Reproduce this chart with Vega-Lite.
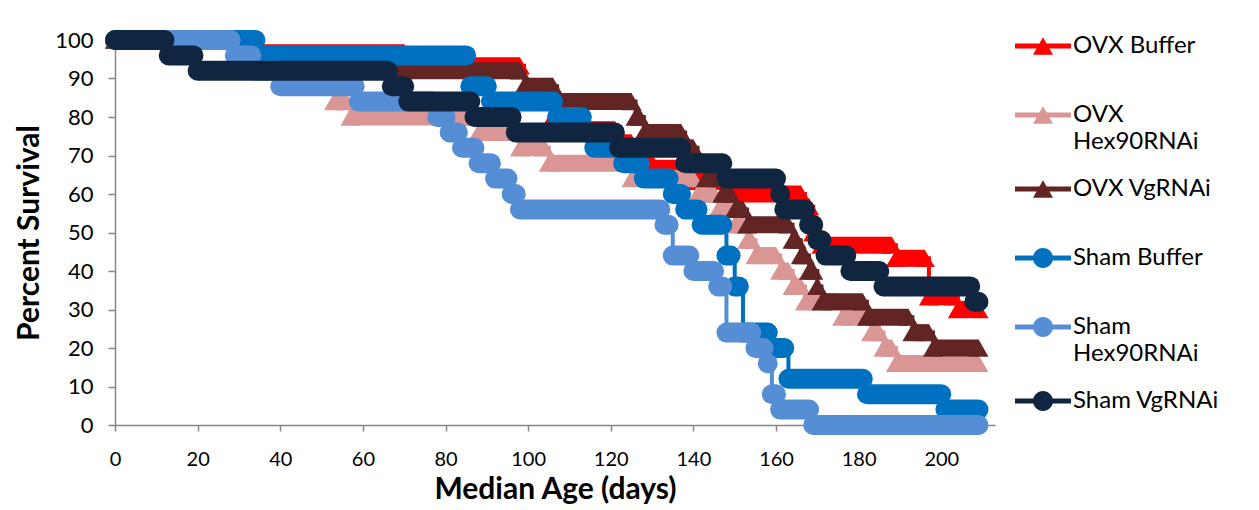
{
  "$schema": "https://vega.github.io/schema/vega-lite/v6.json",
  "width": 880,
  "height": 385,
  "autosize": {"type": "none"},
  "padding": {"left": 115, "top": 40, "right": 264, "bottom": 85},
  "background": "white",
  "config": {"view": {"stroke": null}, "font": "Lato", "style": {"guide-label": {"lineHeight": 27}}},
  "data": {"values": [
    {"s":"OVX Buffer","a":0,"b":29,"p":100},{"s":"OVX Buffer","a":30,"b":70,"p":96.7},{"s":"OVX Buffer","a":71,"b":98,"p":93.3},{"s":"OVX Buffer","a":99,"b":105,"p":86.7},{"s":"OVX Buffer","a":106,"b":113,"p":80},{"s":"OVX Buffer","a":114,"b":121,"p":76.7},{"s":"OVX Buffer","a":122,"b":125,"p":73.3},{"s":"OVX Buffer","a":126,"b":129,"p":70},{"s":"OVX Buffer","a":130,"b":139,"p":66.7},{"s":"OVX Buffer","a":140,"b":147,"p":63.3},{"s":"OVX Buffer","a":148,"b":166,"p":60},{"s":"OVX Buffer","a":167,"b":168,"p":56.7},{"s":"OVX Buffer","a":169,"b":170,"p":50},{"s":"OVX Buffer","a":171,"b":188,"p":46.7},{"s":"OVX Buffer","a":189,"b":196,"p":43.3},{"s":"OVX Buffer","a":197,"b":203,"p":33.3},{"s":"OVX Buffer","a":204,"b":209,"p":30},
    {"s":"OVX Hex90RNAi","a":0,"b":29,"p":100},{"s":"OVX Hex90RNAi","a":30,"b":37,"p":96},{"s":"OVX Hex90RNAi","a":38,"b":44,"p":92},{"s":"OVX Hex90RNAi","a":45,"b":52,"p":88},{"s":"OVX Hex90RNAi","a":53,"b":56,"p":84},{"s":"OVX Hex90RNAi","a":57,"b":87,"p":80},{"s":"OVX Hex90RNAi","a":88,"b":97,"p":76},{"s":"OVX Hex90RNAi","a":98,"b":104,"p":72},{"s":"OVX Hex90RNAi","a":105,"b":124,"p":68},{"s":"OVX Hex90RNAi","a":125,"b":140,"p":64},{"s":"OVX Hex90RNAi","a":141,"b":145,"p":60},{"s":"OVX Hex90RNAi","a":146,"b":149,"p":56},{"s":"OVX Hex90RNAi","a":150,"b":152,"p":52},{"s":"OVX Hex90RNAi","a":153,"b":154,"p":48},{"s":"OVX Hex90RNAi","a":155,"b":160,"p":44},{"s":"OVX Hex90RNAi","a":161,"b":163,"p":40},{"s":"OVX Hex90RNAi","a":164,"b":166,"p":36},{"s":"OVX Hex90RNAi","a":167,"b":175,"p":32},{"s":"OVX Hex90RNAi","a":176,"b":182,"p":28},{"s":"OVX Hex90RNAi","a":183,"b":185,"p":24},{"s":"OVX Hex90RNAi","a":186,"b":188,"p":20},{"s":"OVX Hex90RNAi","a":189,"b":209,"p":16},
    {"s":"OVX VgRNAi","a":0,"b":34,"p":100},{"s":"OVX VgRNAi","a":35,"b":59,"p":96},{"s":"OVX VgRNAi","a":60,"b":98,"p":92},{"s":"OVX VgRNAi","a":99,"b":106,"p":88},{"s":"OVX VgRNAi","a":107,"b":125,"p":84},{"s":"OVX VgRNAi","a":126,"b":127,"p":80},{"s":"OVX VgRNAi","a":128,"b":137,"p":76},{"s":"OVX VgRNAi","a":138,"b":140,"p":72},{"s":"OVX VgRNAi","a":141,"b":142,"p":68},{"s":"OVX VgRNAi","a":143,"b":146,"p":64},{"s":"OVX VgRNAi","a":147,"b":149,"p":60},{"s":"OVX VgRNAi","a":150,"b":152,"p":56},{"s":"OVX VgRNAi","a":153,"b":163,"p":52},{"s":"OVX VgRNAi","a":164,"b":165,"p":48},{"s":"OVX VgRNAi","a":166,"b":167,"p":44},{"s":"OVX VgRNAi","a":168,"b":169,"p":40},{"s":"OVX VgRNAi","a":170,"b":170,"p":36},{"s":"OVX VgRNAi","a":171,"b":181,"p":32},{"s":"OVX VgRNAi","a":182,"b":192,"p":28},{"s":"OVX VgRNAi","a":193,"b":197,"p":24},{"s":"OVX VgRNAi","a":198,"b":209,"p":20},
    {"s":"Sham Buffer","a":0,"b":34,"p":100},{"s":"Sham Buffer","a":35,"b":85,"p":96},{"s":"Sham Buffer","a":86,"b":90,"p":88},{"s":"Sham Buffer","a":91,"b":106,"p":84},{"s":"Sham Buffer","a":107,"b":113,"p":80},{"s":"Sham Buffer","a":114,"b":115,"p":76},{"s":"Sham Buffer","a":116,"b":122,"p":72},{"s":"Sham Buffer","a":123,"b":127,"p":68},{"s":"Sham Buffer","a":128,"b":134,"p":64},{"s":"Sham Buffer","a":135,"b":137,"p":60},{"s":"Sham Buffer","a":138,"b":141,"p":56},{"s":"Sham Buffer","a":142,"b":147,"p":52},{"s":"Sham Buffer","a":148,"b":149,"p":44},{"s":"Sham Buffer","a":150,"b":151,"p":36},{"s":"Sham Buffer","a":152,"b":158,"p":24},{"s":"Sham Buffer","a":159,"b":162,"p":20},{"s":"Sham Buffer","a":163,"b":181,"p":12},{"s":"Sham Buffer","a":182,"b":200,"p":8},{"s":"Sham Buffer","a":201,"b":209,"p":4},
    {"s":"Sham Hex90RNAi","a":0,"b":28,"p":100},{"s":"Sham Hex90RNAi","a":29,"b":33,"p":96},{"s":"Sham Hex90RNAi","a":34,"b":39,"p":92},{"s":"Sham Hex90RNAi","a":40,"b":58,"p":88},{"s":"Sham Hex90RNAi","a":59,"b":77,"p":84},{"s":"Sham Hex90RNAi","a":78,"b":80,"p":80},{"s":"Sham Hex90RNAi","a":81,"b":83,"p":76},{"s":"Sham Hex90RNAi","a":84,"b":87,"p":72},{"s":"Sham Hex90RNAi","a":88,"b":91,"p":68},{"s":"Sham Hex90RNAi","a":92,"b":95,"p":64},{"s":"Sham Hex90RNAi","a":96,"b":97,"p":60},{"s":"Sham Hex90RNAi","a":98,"b":132,"p":56},{"s":"Sham Hex90RNAi","a":133,"b":134,"p":52},{"s":"Sham Hex90RNAi","a":135,"b":139,"p":44},{"s":"Sham Hex90RNAi","a":140,"b":145,"p":40},{"s":"Sham Hex90RNAi","a":146,"b":147,"p":36},{"s":"Sham Hex90RNAi","a":148,"b":154,"p":24},{"s":"Sham Hex90RNAi","a":155,"b":157,"p":20},{"s":"Sham Hex90RNAi","a":158,"b":158,"p":16},{"s":"Sham Hex90RNAi","a":159,"b":160,"p":8},{"s":"Sham Hex90RNAi","a":161,"b":168,"p":4},{"s":"Sham Hex90RNAi","a":169,"b":209,"p":0},
    {"s":"Sham VgRNAi","a":0,"b":12,"p":100},{"s":"Sham VgRNAi","a":13,"b":19,"p":96},{"s":"Sham VgRNAi","a":20,"b":66,"p":92},{"s":"Sham VgRNAi","a":67,"b":70,"p":88},{"s":"Sham VgRNAi","a":71,"b":86,"p":84},{"s":"Sham VgRNAi","a":87,"b":96,"p":80},{"s":"Sham VgRNAi","a":97,"b":121,"p":76},{"s":"Sham VgRNAi","a":122,"b":137,"p":72},{"s":"Sham VgRNAi","a":138,"b":147,"p":68},{"s":"Sham VgRNAi","a":148,"b":160,"p":64},{"s":"Sham VgRNAi","a":161,"b":161,"p":60},{"s":"Sham VgRNAi","a":162,"b":167,"p":56},{"s":"Sham VgRNAi","a":168,"b":169,"p":52},{"s":"Sham VgRNAi","a":170,"b":171,"p":48},{"s":"Sham VgRNAi","a":172,"b":177,"p":44},{"s":"Sham VgRNAi","a":178,"b":185,"p":40},{"s":"Sham VgRNAi","a":186,"b":207,"p":36},{"s":"Sham VgRNAi","a":208,"b":209,"p":32}
  ]},
  "encoding": {
    "x": {"field": "a", "type": "quantitative", "scale": {"domain": [0, 213], "nice": false, "zero": false},
      "axis": {"title": "Median Age (days)", "values": [0,20,40,60,80,100,120,140,160,180,200], "grid": false, "tickSize": 6, "domainColor": "#868686", "tickColor": "#868686", "domainWidth": 1.5, "tickWidth": 1.5, "labelFontSize": 20, "labelColor": "#000000", "labelPadding": 18, "labelFont": "Lato", "titleFont": "Lato", "titleFontSize": 30, "titleFontWeight": "bold", "titleColor": "#000000", "titlePadding": 5, "labelFlush": false}},
    "y": {"field": "p", "type": "quantitative", "scale": {"domain": [0, 100], "nice": false},
      "axis": {"title": "Percent Survival", "values": [0,10,20,30,40,50,60,70,80,90,100], "grid": false, "tickSize": 7, "domainColor": "#868686", "tickColor": "#868686", "domainWidth": 1.5, "tickWidth": 1.5, "labelFontSize": 22, "labelColor": "#000000", "labelPadding": 15, "labelFont": "Lato", "titleFont": "Lato", "titleFontSize": 30, "titleFontWeight": "bold", "titleColor": "#000000", "titlePadding": 10}}
  },
  "layer": [
    {
      "transform": [{"filter": "datum.p > 1000"}],
      "mark": {"type": "point", "filled": true, "opacity": 1, "strokeWidth": 0},
      "encoding": {
        "color": {"field": "s", "type": "nominal",
          "scale": {"domain": ["OVX Buffer","OVX Hex90RNAi","OVX VgRNAi","Sham Buffer","Sham Hex90RNAi","Sham VgRNAi"], "range": ["#FF0000","#D99694","#632523","#0070C0","#558ED5","#10253F"]},
          "legend": {"title": null, "orient": "none", "legendX": 900, "legendY": -22, "padding": 0, "symbolSize": 3136, "symbolStrokeWidth": 0, "symbolOpacity": 1, "labelFontSize": 24, "labelFont": "Lato", "labelColor": "#000000", "labelOffset": 2, "rowPadding": 1, "labelLimit": 300,
            "labelExpr": "datum.label == 'OVX Hex90RNAi' ? ['OVX', 'Hex90RNAi'] : datum.label == 'Sham Hex90RNAi' ? ['Sham', 'Hex90RNAi'] : datum.label"}},
        "shape": {"field": "s", "type": "nominal",
          "scale": {"domain": ["OVX Buffer","OVX Hex90RNAi","OVX VgRNAi","Sham Buffer","Sham Hex90RNAi","Sham VgRNAi"],
            "range": [
              "M0,-1.18M0,1.18M-1,-0.09L1,-0.09L1,0.09L-1,0.09Z M-0.357,0.31L0,-0.31L0.357,0.31Z",
              "M0,-1.18M0,1.18M-1,-0.09L1,-0.09L1,0.09L-1,0.09Z M-0.357,0.31L0,-0.31L0.357,0.31Z",
              "M0,-1.18M0,1.18M-1,-0.09L1,-0.09L1,0.09L-1,0.09Z M-0.357,0.31L0,-0.31L0.357,0.31Z",
              "M0,-1.18M0,1.18M-1,-0.09L1,-0.09L1,0.09L-1,0.09Z M-0.357,0A0.357,0.357,0,1,1,0.357,0A0.357,0.357,0,1,1,-0.357,0Z",
              "M0,-1.18M0,1.18M-1,-0.09L1,-0.09L1,0.09L-1,0.09Z M-0.357,0A0.357,0.357,0,1,1,0.357,0A0.357,0.357,0,1,1,-0.357,0Z",
              "M0,-1.18M0,1.18M-1,-0.09L1,-0.09L1,0.09L-1,0.09Z M-0.357,0A0.357,0.357,0,1,1,0.357,0A0.357,0.357,0,1,1,-0.357,0Z"]},
          "legend": {"title": null, "orient": "none", "legendX": 900, "legendY": -22, "padding": 0, "symbolSize": 3136, "symbolStrokeWidth": 0, "symbolOpacity": 1, "labelFontSize": 24, "labelFont": "Lato", "labelColor": "#000000", "labelOffset": 2, "rowPadding": 1, "labelLimit": 300,
            "labelExpr": "datum.label == 'OVX Hex90RNAi' ? ['OVX', 'Hex90RNAi'] : datum.label == 'Sham Hex90RNAi' ? ['Sham', 'Hex90RNAi'] : datum.label"}}
      }
    },
    {
      "mark": {"type": "line", "interpolate": "step-after", "strokeWidth": 4},
      "encoding": {"color": {"field": "s", "type": "nominal", "legend": null}}
    },
    {
      "transform": [{"filter": "datum.s == 'OVX Buffer'"}],
      "mark": {"type": "rule", "strokeWidth": 17, "strokeCap": "butt"},
      "encoding": {"x2": {"field": "b"}, "color": {"field": "s", "type": "nominal", "legend": null}}
    },
    {
      "transform": [{"filter": "datum.s == 'OVX Buffer'"}],
      "mark": {"type": "point", "shape": "triangle-up", "filled": true, "size": 400, "opacity": 1, "strokeWidth": 0},
      "encoding": {"color": {"field": "s", "type": "nominal", "legend": null}}
    },
    {
      "transform": [{"filter": "datum.s == 'OVX Buffer'"}],
      "mark": {"type": "point", "shape": "triangle-up", "filled": true, "size": 400, "opacity": 1, "strokeWidth": 0},
      "encoding": {
        "x": {"field": "b", "type": "quantitative", "scale": {"domain": [0, 213], "nice": false, "zero": false},
          "axis": {"title": "Median Age (days)", "values": [0,20,40,60,80,100,120,140,160,180,200], "grid": false, "tickSize": 6, "domainColor": "#868686", "tickColor": "#868686", "domainWidth": 1.5, "tickWidth": 1.5, "labelFontSize": 20, "labelColor": "#000000", "labelPadding": 18, "labelFont": "Lato", "titleFont": "Lato", "titleFontSize": 30, "titleFontWeight": "bold", "titleColor": "#000000", "titlePadding": 5, "labelFlush": false}},
        "color": {"field": "s", "type": "nominal", "legend": null}
      }
    },
    {
      "transform": [{"filter": "datum.s == 'OVX Hex90RNAi'"}],
      "mark": {"type": "rule", "strokeWidth": 17, "strokeCap": "butt"},
      "encoding": {"x2": {"field": "b"}, "color": {"field": "s", "type": "nominal", "legend": null}}
    },
    {
      "transform": [{"filter": "datum.s == 'OVX Hex90RNAi'"}],
      "mark": {"type": "point", "shape": "triangle-up", "filled": true, "size": 400, "opacity": 1, "strokeWidth": 0},
      "encoding": {"color": {"field": "s", "type": "nominal", "legend": null}}
    },
    {
      "transform": [{"filter": "datum.s == 'OVX Hex90RNAi'"}],
      "mark": {"type": "point", "shape": "triangle-up", "filled": true, "size": 400, "opacity": 1, "strokeWidth": 0},
      "encoding": {
        "x": {"field": "b", "type": "quantitative", "scale": {"domain": [0, 213], "nice": false, "zero": false},
          "axis": {"title": "Median Age (days)", "values": [0,20,40,60,80,100,120,140,160,180,200], "grid": false, "tickSize": 6, "domainColor": "#868686", "tickColor": "#868686", "domainWidth": 1.5, "tickWidth": 1.5, "labelFontSize": 20, "labelColor": "#000000", "labelPadding": 18, "labelFont": "Lato", "titleFont": "Lato", "titleFontSize": 30, "titleFontWeight": "bold", "titleColor": "#000000", "titlePadding": 5, "labelFlush": false}},
        "color": {"field": "s", "type": "nominal", "legend": null}
      }
    },
    {
      "transform": [{"filter": "datum.s == 'OVX VgRNAi'"}],
      "mark": {"type": "rule", "strokeWidth": 17, "strokeCap": "butt"},
      "encoding": {"x2": {"field": "b"}, "color": {"field": "s", "type": "nominal", "legend": null}}
    },
    {
      "transform": [{"filter": "datum.s == 'OVX VgRNAi'"}],
      "mark": {"type": "point", "shape": "triangle-up", "filled": true, "size": 400, "opacity": 1, "strokeWidth": 0},
      "encoding": {"color": {"field": "s", "type": "nominal", "legend": null}}
    },
    {
      "transform": [{"filter": "datum.s == 'OVX VgRNAi'"}],
      "mark": {"type": "point", "shape": "triangle-up", "filled": true, "size": 400, "opacity": 1, "strokeWidth": 0},
      "encoding": {
        "x": {"field": "b", "type": "quantitative", "scale": {"domain": [0, 213], "nice": false, "zero": false},
          "axis": {"title": "Median Age (days)", "values": [0,20,40,60,80,100,120,140,160,180,200], "grid": false, "tickSize": 6, "domainColor": "#868686", "tickColor": "#868686", "domainWidth": 1.5, "tickWidth": 1.5, "labelFontSize": 20, "labelColor": "#000000", "labelPadding": 18, "labelFont": "Lato", "titleFont": "Lato", "titleFontSize": 30, "titleFontWeight": "bold", "titleColor": "#000000", "titlePadding": 5, "labelFlush": false}},
        "color": {"field": "s", "type": "nominal", "legend": null}
      }
    },
    {
      "transform": [{"filter": "slice(datum.s, 0, 4) == 'Sham'"}],
      "mark": {"type": "rule", "strokeWidth": 20, "strokeCap": "round"},
      "encoding": {"x2": {"field": "b"}, "color": {"field": "s", "type": "nominal", "legend": null}}
    }
  ]
}
